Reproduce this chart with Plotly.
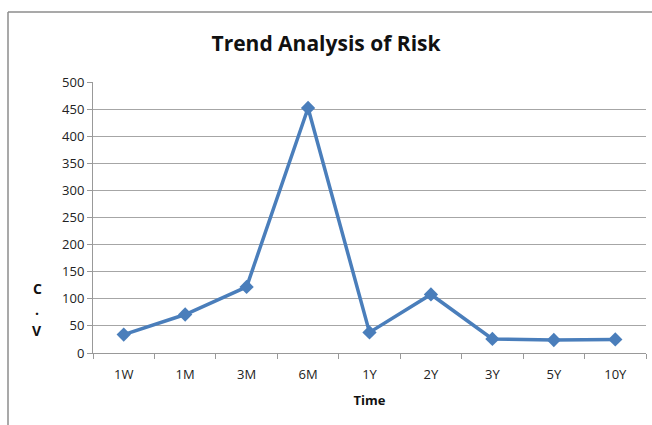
import plotly.graph_objects as go

categories = ["1W", "1M", "3M", "6M", "1Y", "2Y", "3Y", "5Y", "10Y"]
cv_values = [34, 71, 122, 452, 38, 108, 26, 24, 25]
y_ticks = [0, 50, 100, 150, 200, 250, 300, 350, 400, 450, 500]
y_label_chars = ["C", ".", "V"]

fig = go.Figure()
fig.add_trace(go.Scatter(
    x=categories, y=cv_values, mode="lines+markers",
    line=dict(color="#4A7EBB", width=3.5),
    marker=dict(symbol="diamond", size=11, color="#4A7EBB"),
    showlegend=False,
))

font_family = "Open Sans, Liberation Sans, sans-serif"
L, R, T, B = 93, 6, 82, 72
W, H = 652, 425
pw, ph = W - L - R, H - T - B

fig.update_layout(
    width=W, height=H,
    margin=dict(l=L, r=R, t=T, b=B),
    paper_bgcolor="white", plot_bgcolor="white",
    font=dict(family=font_family, size=13, color="#222"),
    title=dict(text="<b>Trend Analysis of Risk</b>", x=0.5, xanchor="center",
               y=1 - 44 / H, yanchor="middle",
               font=dict(size=21, color="#111", family=font_family)),
)
fig.update_xaxes(
    type="category", range=[-0.5, 8.5], tickson="boundaries",
    ticks="outside", ticklen=5, tickcolor="#999", ticklabelstandoff=9,
    showline=True, linecolor="#999", linewidth=1, showgrid=False,
    tickfont=dict(size=13, color="#222"),
    title=dict(text="<b>Time</b>", font=dict(size=13, color="#111"), standoff=14),
)
fig.update_yaxes(
    range=[0, 500], tickvals=y_ticks, ticks="outside", ticklen=5, tickcolor="#999",
    showline=True, linecolor="#999", linewidth=1,
    showgrid=True, gridcolor="#A6A6A6", gridwidth=1, zeroline=False,
    tickfont=dict(size=13, color="#222"),
)
for i, ch in enumerate(y_label_chars):
    fig.add_annotation(
        text="<b>" + ch + "</b>", xref="paper", yref="paper",
        x=(37 - L) / pw, y=(353 - (288 + 21 * i)) / ph, showarrow=False,
        xanchor="center", yanchor="middle", font=dict(size=14, color="#111"),
    )
# outer chart frame (left and top edges visible in the reference)
fig.add_shape(type="line", xref="paper", yref="paper",
              x0=(8 - L) / pw, x1=(8 - L) / pw, y0=(353 - 430) / ph, y1=(353 - 12) / ph,
              line=dict(color="#8C8C8C", width=1.5))
fig.add_shape(type="line", xref="paper", yref="paper",
              x0=(8 - L) / pw, x1=(660 - L) / pw, y0=(353 - 12) / ph, y1=(353 - 12) / ph,
              line=dict(color="#8C8C8C", width=1.5))

fig.write_html("out.html", config={"displayModeBar": False},
               post_script="document.body.style.margin='0';")
